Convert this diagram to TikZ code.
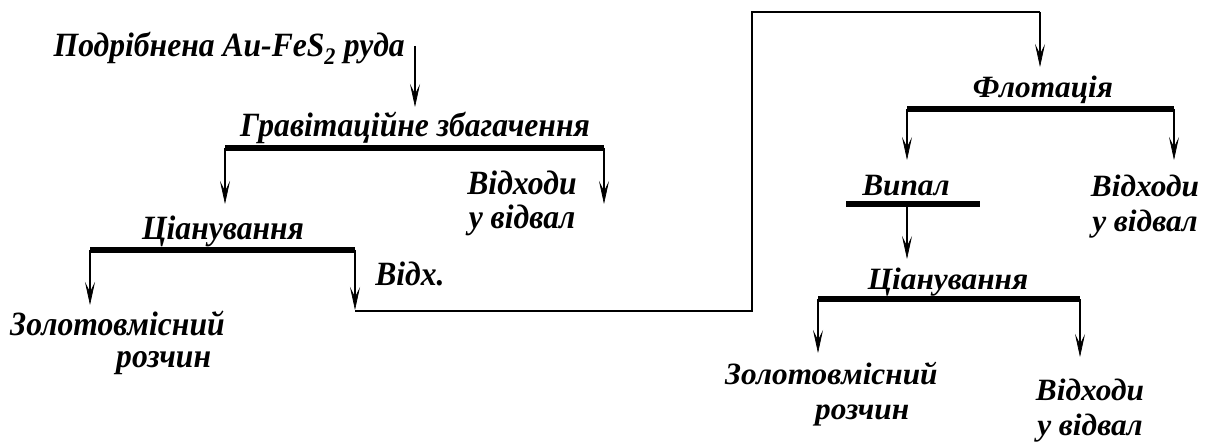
\documentclass[tikz,border=0pt]{standalone}
\usepackage{fontspec}
\setmainfont{Liberation Serif}
\newfontfamily\lft[FakeStretch=0.93]{Liberation Serif}
\newfontfamily\rgt[FakeStretch=1.01]{Liberation Serif}
\usetikzlibrary{arrows.meta}
\newcommand\twoline[3][c]{\begin{tabular}[t]{@{}#1@{}}#2\\#3\end{tabular}}
\begin{document}
\begin{tikzpicture}[x=1pt,y=-1pt,
  lt/.style={font=\lft\bfseries\itshape\fontsize{34}{32}\selectfont, inner sep=0pt, anchor=base},
  rt/.style={font=\rgt\bfseries\itshape\fontsize{31}{35}\selectfont, inner sep=0pt, anchor=base},
  bar/.style={line width=5.5pt},
  wire/.style={line width=1.8pt},
  flow/.style={line width=1.8pt, -{Stealth[length=23pt,width=10pt,inset=10pt,line width=0.7pt]}}]
\useasboundingbox (0,0) rectangle (1215,446);
% ---- left part
\node[lt, anchor=base east] (ore) at (405,57) {Подрібнена Au-FeS\textsubscript{2} руда};
\coordinate (a1s) at (415,46);
\coordinate (a1e) at (415,107);
\draw[flow] (a1s) -- (a1e);
\node[lt] (grav) at (415,137) {Гравітаційне збагачення};
\coordinate (b1l) at (225,148); \coordinate (b1r) at (604,148);
\draw[bar] (b1l) -- (b1r);
\coordinate (c1) at (225,204); \coordinate (w1) at (604,204);
\draw[flow] (b1l) -- (c1);
\draw[flow] (b1r) -- (w1);
\node[lt] (waste1) at (522,195) {\twoline{Відходи}{у відвал}};
\node[lt] (cyan1) at (223,240) {Ціанування};
\coordinate (b2l) at (90,250); \coordinate (b2r) at (355,250);
\draw[bar] (b2l) -- (b2r);
\coordinate (s1) at (90,305); \coordinate (t1) at (355,310);
\draw[flow] (b2l) -- (s1);
\draw[flow] (b2r) -- (t1);
\node[lt] (tail) at (410,286) {Відх.};
\node[lt, anchor=base west] (sol1) at (10,335) {\twoline[l]{Золотовмісний}{\hspace*{106pt}розчин}};
% ---- recycle line
\coordinate (r0) at (355,311);
\coordinate (r1) at (752,311);
\coordinate (r2) at (752,12);
\coordinate (r3) at (1040,12);
\coordinate (r4) at (1040,67);
\draw[wire] (r0) -- (r1) -- (r2) -- (r3);
\draw[flow] (r3) -- (r4);
% ---- right part
\node[rt] (flot) at (1043,98) {Флотація};
\coordinate (b3l) at (907,109); \coordinate (b3r) at (1174,109);
\draw[bar] (b3l) -- (b3r);
\coordinate (f1) at (907,160); \coordinate (f2) at (1174,160);
\draw[flow] (b3l) -- (f1);
\draw[flow] (b3r) -- (f2);
\node[rt] (roast) at (906,196) {Випал};
\node[rt] (waste2) at (1145,197) {\twoline{Відходи}{у відвал}};
\coordinate (b4l) at (846,204); \coordinate (b4r) at (980,204);
\coordinate (b4m) at (907,204);
\draw[bar] (b4l) -- (b4r);
\coordinate (f3) at (907,259);
\draw[flow] (b4m) -- (f3);
\node[rt] (cyan2) at (948,290) {Ціанування};
\coordinate (b5l) at (818,299); \coordinate (b5r) at (1080,299);
\draw[bar] (b5l) -- (b5r);
\coordinate (f4) at (818,353); \coordinate (f5) at (1080,357);
\draw[flow] (b5l) -- (f4);
\draw[flow] (b5r) -- (f5);
\node[rt, anchor=base west] (sol2) at (725,384) {\twoline[l]{Золотовмісний}{\hspace*{90pt}розчин}};
\node[rt] (waste3) at (1090,400) {\twoline{Відходи}{у відвал}};
\end{tikzpicture}
\end{document}
